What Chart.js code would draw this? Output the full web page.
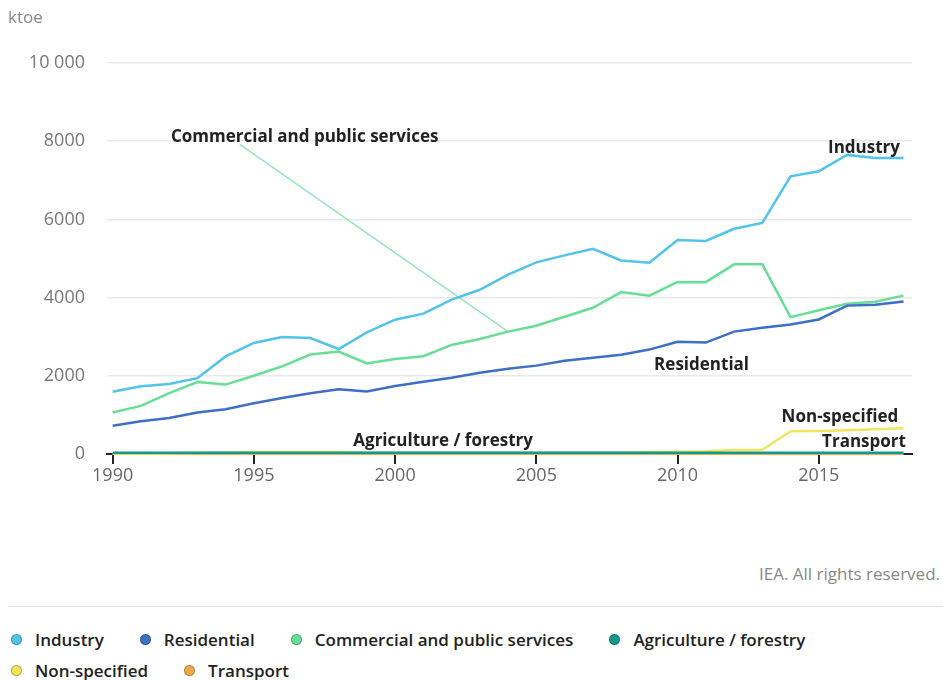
<!DOCTYPE html>
<html>
<head>
<meta charset="utf-8">
<script src="https://cdn.jsdelivr.net/npm/chart.js@4/dist/chart.umd.min.js"></script>
<style>
  html, body { margin: 0; padding: 0; background: #fff; }
  body { width: 943px; height: 680px; position: relative; overflow: hidden; font-family: "Open Sans", sans-serif; }
  #wrap { position: absolute; left: 0; top: 0; width: 943px; height: 500px; }
  #credit { position: absolute; right: 3px; top: 562px; font-size: 17px; color: #888; }
  #sep { position: absolute; left: 8px; right: 0; top: 606px; height: 1px; background: #e2e2e2; }
  #legend { position: absolute; left: 11px; top: 624px; width: 930px; }
  .row { display: flex; height: 31px; align-items: center; }
  .item { display: flex; align-items: center; margin-right: 36px; font-size: 17px; font-weight: 600; color: #222; white-space: nowrap; }
  .dot { width: 11px; height: 11px; border-radius: 50%; margin-right: 13px; box-sizing: border-box; border: 1px solid rgba(0,0,0,0.25); }
</style>
</head>
<body>
<div id="wrap"><canvas id="energyChart"></canvas></div>
<div id="credit">IEA. All rights reserved.</div>
<div id="sep"></div>
<div id="legend"></div>
<script>
// --- data (ktoe) ---
const years = [1990, 1991, 1992, 1993, 1994, 1995, 1996, 1997, 1998, 1999,
               2000, 2001, 2002, 2003, 2004, 2005, 2006, 2007, 2008, 2009,
               2010, 2011, 2012, 2013, 2014, 2015, 2016, 2017, 2018];

const industry = [1590, 1735, 1790, 1940, 2495, 2840, 2990, 2965, 2685, 3110,
                  3435, 3590, 3950, 4200, 4590, 4900, 5080, 5250, 4950, 4890,
                  5470, 5450, 5760, 5910, 7100, 7230, 7650, 7570, 7570];

const residential = [720, 840, 920, 1060, 1145, 1300, 1430, 1555, 1655, 1600,
                     1740, 1850, 1950, 2080, 2180, 2260, 2385, 2460, 2540, 2670,
                     2870, 2850, 3130, 3230, 3310, 3440, 3795, 3820, 3900];

const commercial = [1060, 1230, 1555, 1840, 1775, 2000, 2240, 2545, 2620, 2315,
                    2430, 2500, 2790, 2940, 3130, 3280, 3510, 3740, 4140, 4050,
                    4400, 4395, 4850, 4850, 3500, 3675, 3845, 3895, 4050];

const agriculture = [30, 30, 30, 30, 30, 30, 30, 30, 30, 30,
                     30, 30, 30, 30, 30, 30, 30, 30, 30, 30,
                     30, 30, 30, 30, 35, 35, 35, 35, 35];

const nonSpecified = [10, 10, 20, 30, 40, 50, 50, 50, 50, 40,
                      40, 40, 40, 40, 40, 40, 40, 40, 40, 50,
                      60, 70, 100, 110, 580, 590, 610, 630, 660];

const transport = [5, 5, 5, 5, 5, 5, 5, 5, 5, 5,
                   5, 5, 5, 5, 5, 5, 5, 5, 5, 5,
                   5, 5, 5, 5, 5, 5, 5, 5, 5];

const yTicks = [0, 2000, 4000, 6000, 8000, 10000];
const xTicks = [1990, 1995, 2000, 2005, 2010, 2015];

const series = [
    { label: 'Industry', data: industry, color: '#52c3ea' },
    { label: 'Residential', data: residential, color: '#3d6fc6' },
    { label: 'Commercial and public services', data: commercial, color: '#66df95' },
    { label: 'Agriculture / forestry', data: agriculture, color: '#13998b' },
    { label: 'Non-specified', data: nonSpecified, color: '#f3e45e' },
    { label: 'Transport', data: transport, color: '#f0a94a' }
];

// on-chart labels, anchored in data coordinates
const annotations = [
    { text: 'Commercial and public services', x: 1996.8, y: 8100 },
    { text: 'Industry', x: 2016.6, y: 7820 },
    { text: 'Residential', x: 2010.85, y: 2280 },
    { text: 'Non-specified', x: 2015.75, y: 950 },
    { text: 'Transport', x: 2016.6, y: 310 },
    { text: 'Agriculture / forestry', x: 2001.7, y: 330 }
];
const leader = { fromX: 1994.5, fromY: 7920, toYear: 2004 };

const toPoints = (arr) => arr.map((v, i) => ({ x: years[i], y: v }));

const labelPlugin = {
    id: 'labels',
    beforeDatasetsDraw(chart) {
        const { ctx, scales } = chart;
        const x = scales.x, y = scales.y;
        const idx = years.indexOf(leader.toYear);
        ctx.save();
        ctx.strokeStyle = '#93e6b5';
        ctx.lineWidth = 1.5;
        ctx.beginPath();
        ctx.moveTo(x.getPixelForValue(leader.fromX), y.getPixelForValue(leader.fromY));
        ctx.lineTo(x.getPixelForValue(leader.toYear), y.getPixelForValue(commercial[idx]));
        ctx.stroke();
        ctx.restore();
    },
    afterDatasetsDraw(chart) {
        const { ctx, scales } = chart;
        ctx.save();
        ctx.font = 'bold 17px "Open Sans"';
        ctx.fillStyle = '#222';
        ctx.textAlign = 'center';
        ctx.textBaseline = 'middle';
        annotations.forEach(a => {
            ctx.fillText(a.text, scales.x.getPixelForValue(a.x), scales.y.getPixelForValue(a.y));
        });
        // unit label
        ctx.font = '17px "Open Sans"';
        ctx.fillStyle = '#888';
        ctx.textAlign = 'left';
        ctx.fillText('ktoe', 8, 18);
        ctx.restore();
    }
};

const energyChart = new Chart(document.getElementById('energyChart'), {
    type: 'line',
    data: {
        datasets: series.map(s => ({
            label: s.label,
            data: toPoints(s.data),
            borderColor: s.color,
            backgroundColor: s.color,
            borderWidth: 2.5,
            pointRadius: 0,
            tension: 0,
            clip: false
        }))
    },
    options: {
        responsive: true,
        maintainAspectRatio: false,
        animation: false,
        layout: { padding: { top: 63, right: 31, left: 0, bottom: 0 } },
        plugins: {
            legend: { display: false },
            tooltip: { enabled: false }
        },
        scales: {
            x: {
                type: 'linear',
                min: 1989.8,
                max: 2018.3,
                afterBuildTicks: (scale) => { scale.ticks = xTicks.map(v => ({ value: v })); },
                afterFit: (scale) => { scale.height = 46; },
                grid: { drawOnChartArea: false, drawTicks: true, tickLength: 10, color: '#222', lineWidth: 2 },
                border: { color: '#222', width: 2 },
                ticks: {
                    padding: 1,
                    color: '#666',
                    font: { family: 'Open Sans', size: 18 },
                    callback: (val) => String(val)
                }
            },
            y: {
                min: 0,
                max: 10000,
                afterBuildTicks: (scale) => { scale.ticks = yTicks.map(v => ({ value: v })); },
                afterFit: (scale) => { scale.width = 107; },
                grid: { color: '#e8e8e8', lineWidth: 1.5, drawTicks: false },
                border: { display: false },
                ticks: {
                    padding: 22,
                    color: '#777',
                    font: { family: 'Open Sans', size: 18 },
                    callback: (val) => val >= 10000 ? val.toLocaleString('en-US').replace(',', ' ') : String(val)
                }
            }
        }
    },
    plugins: [labelPlugin]
});

// --- HTML legend built from the series list ---
const legendRows = [series.slice(0, 4), series.slice(4)];
const legendEl = document.getElementById('legend');
legendRows.forEach(row => {
    const r = document.createElement('div');
    r.className = 'row';
    row.forEach(s => {
        const it = document.createElement('div');
        it.className = 'item';
        const dot = document.createElement('span');
        dot.className = 'dot';
        dot.style.background = s.color;
        it.appendChild(dot);
        it.appendChild(document.createTextNode(s.label));
        r.appendChild(it);
    });
    legendEl.appendChild(r);
});
</script>
</body>
</html>
